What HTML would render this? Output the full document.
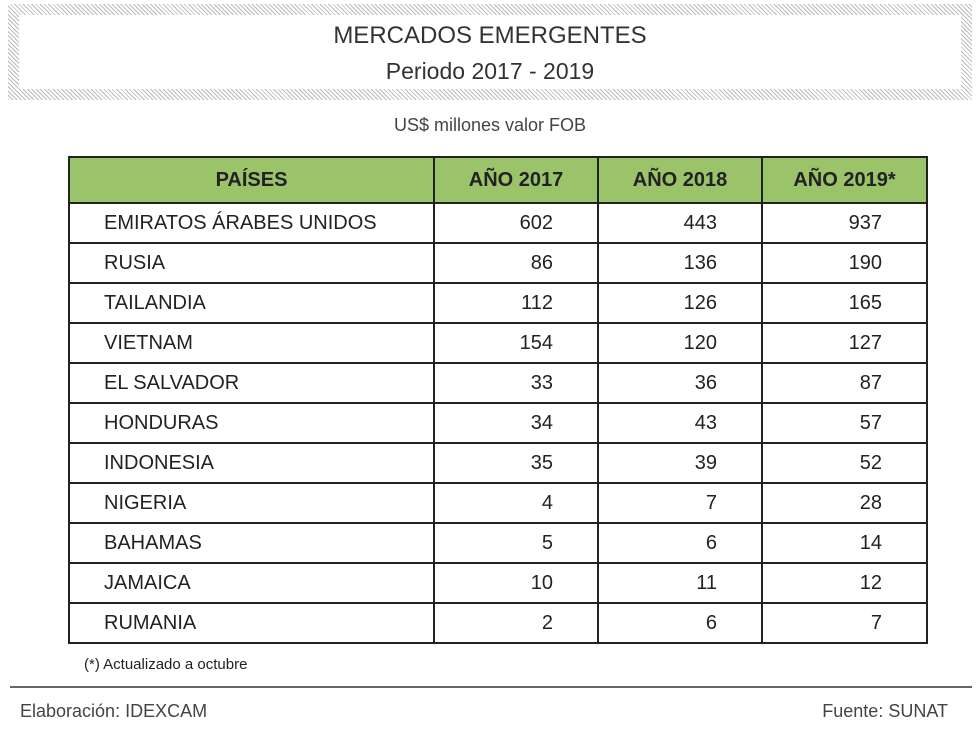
<!DOCTYPE html>
<html><head><meta charset="utf-8"><style>
body{margin:0;width:980px;height:734px;background:#fff;font-family:"Liberation Sans",sans-serif;position:relative;overflow:hidden;color:#222}
.frame{position:absolute;left:8px;top:4px;width:964px;height:96px;box-sizing:border-box;border:11px solid #ccc;border-image:repeating-linear-gradient(45deg,#bbb 0 1px,#fff 1px 3px) 11;background:#fff}
.t1{position:absolute;left:0;width:980px;text-align:center;top:22px;font-size:24px;color:#333}
.t2{position:absolute;left:0;width:980px;text-align:center;top:58px;font-size:23px;color:#333}
.sub{position:absolute;left:0;width:980px;text-align:center;top:115px;font-size:18px;color:#444}
table{position:absolute;left:68px;top:156px;border-collapse:collapse;font-size:20px}
td,th{border:2px solid #222;height:38px;padding:0}
th{background:#9bc46a;font-weight:bold;height:44px}
td.n{text-align:right;padding-right:44px}
td.c{text-align:left;padding-left:34px}
.note{position:absolute;left:84px;top:656px;font-size:15px}
.line{position:absolute;left:10px;top:686px;width:962px;height:2px;background:#666}
.el{position:absolute;left:20px;top:701px;font-size:18px;color:#444}
.fu{position:absolute;right:32px;top:701px;font-size:18px;color:#444}
</style></head><body>
<div class="frame"></div>
<div class="t1">MERCADOS EMERGENTES</div>
<div class="t2">Periodo 2017 - 2019</div>
<div class="sub">US$ millones valor FOB</div>
<table>
<colgroup><col style="width:365px"><col style="width:164px"><col style="width:164px"><col style="width:165px"></colgroup>
<tr><th>PAÍSES</th><th>AÑO 2017</th><th>AÑO 2018</th><th>AÑO 2019*</th></tr>
<tbody id="tb"></tbody>
</table>
<div class="note">(*) Actualizado a octubre</div>
<div class="line"></div>
<div class="el">Elaboración: IDEXCAM</div>
<div class="fu">Fuente: SUNAT</div>
<script>
const countries=["EMIRATOS ÁRABES UNIDOS","RUSIA","TAILANDIA","VIETNAM","EL SALVADOR","HONDURAS","INDONESIA","NIGERIA","BAHAMAS","JAMAICA","RUMANIA"];
const y2017=[602,86,112,154,33,34,35,4,5,10,2];
const y2018=[443,136,126,120,36,43,39,7,6,11,6];
const y2019=[937,190,165,127,87,57,52,28,14,12,7];
const tb=document.getElementById('tb');
countries.forEach((c,i)=>{
  const tr=document.createElement('tr');
  
  
  [c,y2017[i],y2018[i],y2019[i]].forEach((v,j)=>{
    const td=document.createElement('td');
    td.className=j?'n':'c';
    td.textContent=v;
    
    
    tr.appendChild(td);
  });
  tb.appendChild(tr);
});
</script>
</body></html>
